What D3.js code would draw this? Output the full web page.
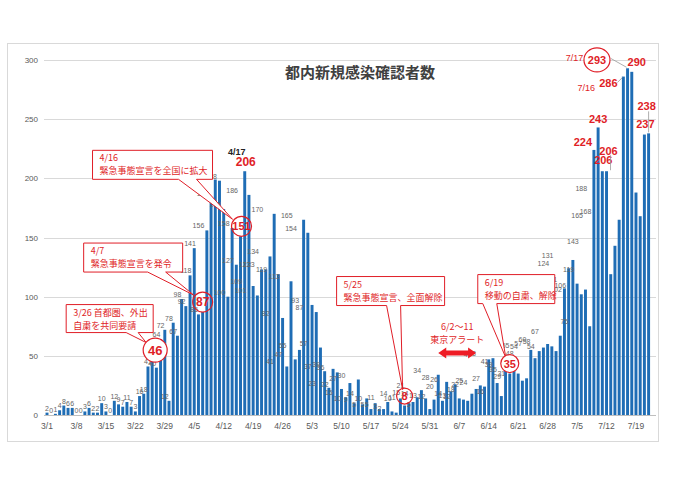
<!DOCTYPE html>
<html><head><meta charset="utf-8">
<script src="https://cdn.jsdelivr.net/npm/d3@7/dist/d3.min.js"></script>
<style>
body{margin:0;background:#fff;}
svg{display:block;}
text{font-family:"Liberation Sans",Arial,sans-serif;}
.jp{font-family:"Noto Sans CJK JP","Noto Sans",sans-serif;}
</style>
</head><body>
<svg id="chart" width="680" height="481"></svg>
<script>
// ---------------- data ----------------
const title = "都内新規感染確認者数";
const values = [
  // March
  2,0,1,4,8,6,6,0,0,3,6,2,2,10,3,0,12,9,7,11,7,3,16,18,41,46,40,64,72,12,78,
  // April
  67,98,92,118,141,85,87,156,183,199,198,174,100,158,127,151,206,186,109,101,123,123,134,170,119,82,41,113,47,55,
  // May
  165,154,93,87,57,37,23,39,36,22,15,27,10,30,9,14,5,10,5,5,11,3,2,14,8,10,11,15,21,14,5,
  // June
  13,34,12,28,20,26,14,13,12,18,22,25,24,47,48,27,16,41,35,39,35,29,31,55,48,54,57,60,58,54,
  // July
  67,107,124,131,111,102,106,75,224,243,206,206,119,143,165,286,293,290,188,168,237,238
];
const fmt = d => (d.getMonth() + 1) + "/" + d.getDate();
const categories = d3.timeDay.range(new Date(2020, 2, 1), new Date(2020, 2, 1 + values.length)).map(fmt);
const tickLabels = ["3/1","3/8","3/15","3/22","3/29","4/5","4/12","4/19","4/26","5/3","5/10","5/17","5/24","5/31","6/7","6/14","6/21","6/28","7/5","7/12","7/19"];
const yTicks = [0, 50, 100, 150, 200, 250, 300];

// red highlighted values (dates)
const redDates = ["3/26","4/7","4/16","4/17","5/25","6/19","7/9","7/10","7/11","7/12","7/16","7/17","7/18","7/21","7/22"];

// callout notes
const notes = [
  {date: "3/26", lines: ["3/26 首都圏、外出", "自粛を共同要請"]},
  {date: "4/7",  lines: ["4/7", "緊急事態宣言を発令"]},
  {date: "4/16", lines: ["4/16", "緊急事態宣言を全国に拡大"]},
  {date: "5/25", lines: ["5/25", "緊急事態宣言、全面解除"]},
  {date: "6/19", lines: ["6/19", "移動の自粛、解除"]}
];
const alertPeriod = {from: "6/2", to: "6/11", lines: ["6/2～11", "東京アラート"]};

// ---------------- layout / styles ----------------
const RED = "#e01e27";
const BLUE = "#1f6db5";
const GRAY = "#595959";

// label layout for red values (offsets from bar top centre)
const redLayout = {
  "3/26": {dx: 3, dy: -10.5, circle: 12, fill: "#fff", size: 13},
  "4/7":  {dx: 0, dy: -10, circle: 10, fill: "none", size: 12},
  "4/16": {dx: 1, dy: -10, circle: 10, fill: "none", size: 11},
  "4/17": {dx: 1, dy: -10, size: 12, sub: "4/17", subDx: -8, subDy: -19, subColor: "#222"},
  "5/25": {dx: 0, dy: -9.5, circle: 8, fill: "none", size: 11},
  "6/19": {dx: 0, dy: -10, circle: 9, fill: "#fff", size: 11},
  "7/9":  {dx: -11, dy: -8, size: 11},
  "7/10": {dx: 0, dy: -8.5, size: 11},
  "7/11": {dx: 1, dy: -11, size: 11},
  "7/12": {dx: 2, dy: -20, size: 11, leader: [[4, -16], [4, -1]]},
  "7/16": {dx: -15, dy: 6.5, size: 11, sub: "7/16", subDx: -37, subDy: 11, subColor: RED, leader: [[-6, 6], [-1, 1]]},
  "7/17": {dx: -30.6, dy: -8.4, circle: 12, rx: 13, fill: "#fff", size: 11, sub: "7/17", subDx: -53, subDy: -11, subColor: RED, leader: [[-17, -10], [-1, -1]]},
  "7/18": {dx: 5, dy: -10, size: 11},
  "7/21": {dx: 1, dy: -10.5, size: 11},
  "7/22": {dx: -2, dy: -27, size: 11, leader: [[0, -22], [0, -1]]}
};
// callout boxes (offsets from bar top centre)
const noteLayout = {
  "3/26": {box: [-86, -56, 1, -28], base: [-26, -14], tip: [-6, -18]},
  "4/7":  {box: [-119, -69, -20, -40], base: [-55, -37], tip: [-9, -17]},
  "4/16": {box: [-148, -86, -28, -57], base: [-62, -44], tip: [-8, -17]},
  "5/25": {box: [-68, -129, 40, -100], base: [-18, -4], tip: [-2, -16]},
  "6/19": {box: [-32, -99, 45, -70], base: [-27, -13], tip: [-4, -16]}
};

const svg = d3.select("#chart");

// chart frame
svg.append("rect").attr("x", 7.5).attr("y", 43.5).attr("width", 651).attr("height", 398)
  .attr("fill", "#fff").attr("stroke", "#d9d9d9");

const x = d3.scaleBand().domain(categories).range([44.9, 650.7]).paddingInner(0.3).paddingOuter(0.15);
const y = d3.scaleLinear().domain([0, 300]).range([415, 60]);
const bx = d => x(d) + x.bandwidth() / 2;
const valueOf = {};
categories.forEach((c, i) => valueOf[c] = values[i]);

// gridlines
svg.append("g").selectAll("line").data(yTicks).join("line")
  .attr("x1", 44).attr("x2", 656)
  .attr("y1", d => Math.round(y(d)) + 0.5).attr("y2", d => Math.round(y(d)) + 0.5)
  .attr("stroke", d => d === 0 ? "#bfbfbf" : "#d9d9d9").attr("stroke-width", 1);

// y axis
const yAxis = svg.append("g").attr("transform", "translate(41,0)")
  .call(d3.axisLeft(y).tickValues(yTicks).tickSize(0).tickPadding(3));
yAxis.select(".domain").remove();
yAxis.selectAll("text").attr("fill", GRAY).attr("font-size", 8).style("font-family", "Liberation Sans, Arial, sans-serif");

// x axis
const xAxis = svg.append("g").attr("transform", "translate(0,415)")
  .call(d3.axisBottom(x).tickValues(tickLabels).tickSize(0).tickPadding(8));
xAxis.select(".domain").remove();
xAxis.selectAll("text").attr("fill", GRAY).attr("font-size", 8.5).style("font-family", "Liberation Sans, Arial, sans-serif");

// title
svg.append("text").attr("class", "jp").attr("x", 360).attr("y", 78)
  .attr("text-anchor", "middle").attr("font-size", 15).attr("font-weight", "bold")
  .attr("fill", "#404040").text(title);

// bars
svg.append("g").selectAll("rect").data(values).join("rect")
  .attr("x", (d, i) => x(categories[i]))
  .attr("width", x.bandwidth())
  .attr("y", d => y(d))
  .attr("height", d => y(0) - y(d))
  .attr("fill", BLUE);

// gray value labels
svg.append("g").selectAll("text").data(values).join("text")
  .filter((d, i) => !redDates.includes(categories[i]))
  .attr("x", (d, i) => bx(categories[i]))
  .attr("y", d => y(d) - 2)
  .attr("text-anchor", "middle")
  .attr("font-size", 7)
  .attr("fill", "#666")
  .text(d => d);

// callouts
const ng = svg.append("g");
notes.forEach(n => {
  const L = noteLayout[n.date];
  const ax = bx(n.date), ay = y(valueOf[n.date]);
  const [x0, y0, x1, y1] = [ax + L.box[0], ay + L.box[1], ax + L.box[2], ay + L.box[3]];
  const path = `M${x0},${y0}H${x1}V${y1}H${ax + L.base[1]}L${ax + L.tip[0]},${ay + L.tip[1]}L${ax + L.base[0]},${y1}H${x0}Z`;
  ng.append("path").attr("d", path).attr("fill", "#fff").attr("stroke", RED).attr("stroke-width", 1);
  n.lines.forEach((t, k) => {
    ng.append("text").attr("class", "jp").attr("x", x0 + 7).attr("y", y0 + 11 + k * 13)
      .attr("font-size", 9).attr("fill", RED).text(t);
  });
});

// red labels
const rg = svg.append("g");
redDates.forEach(d => {
  const L = redLayout[d];
  const ax = bx(d), ay = y(valueOf[d]);
  const cx = ax + L.dx, cy = ay + L.dy;
  if (L.leader) {
    rg.append("line").attr("x1", ax + L.leader[0][0]).attr("y1", ay + L.leader[0][1])
      .attr("x2", ax + L.leader[1][0]).attr("y2", ay + L.leader[1][1])
      .attr("stroke", "#999").attr("stroke-width", 0.8);
  }
  if (L.circle) {
    rg.append("ellipse").attr("cx", cx).attr("cy", cy).attr("rx", L.rx || L.circle).attr("ry", L.circle)
      .attr("fill", L.fill).attr("stroke", RED).attr("stroke-width", 1.2);
  }
  rg.append("text").attr("x", cx).attr("y", cy).attr("dy", "0.36em")
    .attr("text-anchor", "middle").attr("font-size", L.size).attr("font-weight", "bold")
    .attr("fill", RED).text(valueOf[d]);
  if (L.sub) {
    rg.append("text").attr("x", ax + L.subDx).attr("y", ay + L.subDy).attr("dy", "0.36em")
      .attr("text-anchor", "middle").attr("font-size", 9)
      .attr("font-weight", L.subColor === RED ? "normal" : "bold")
      .attr("fill", L.subColor).text(L.sub);
  }
});

// Tokyo alert
const ax0 = bx(alertPeriod.from), ax1 = bx(alertPeriod.to), amid = (ax0 + ax1) / 2, ay = 353;
alertPeriod.lines.forEach((t, k) => {
  svg.append("text").attr("class", "jp").attr("x", amid).attr("y", 330 + k * 13)
    .attr("text-anchor", "middle").attr("font-size", 9).attr("fill", RED).text(t);
});
const hl = 8, ht = 5.5, bt = 2.5;
svg.append("path")
  .attr("d", `M${ax0},${ay}L${ax0 + hl},${ay - ht}V${ay - bt}H${ax1 - hl}V${ay - ht}L${ax1},${ay}L${ax1 - hl},${ay + ht}V${ay + bt}H${ax0 + hl}V${ay + ht}Z`)
  .attr("fill", "#ee1c25");
</script>
</body></html>
